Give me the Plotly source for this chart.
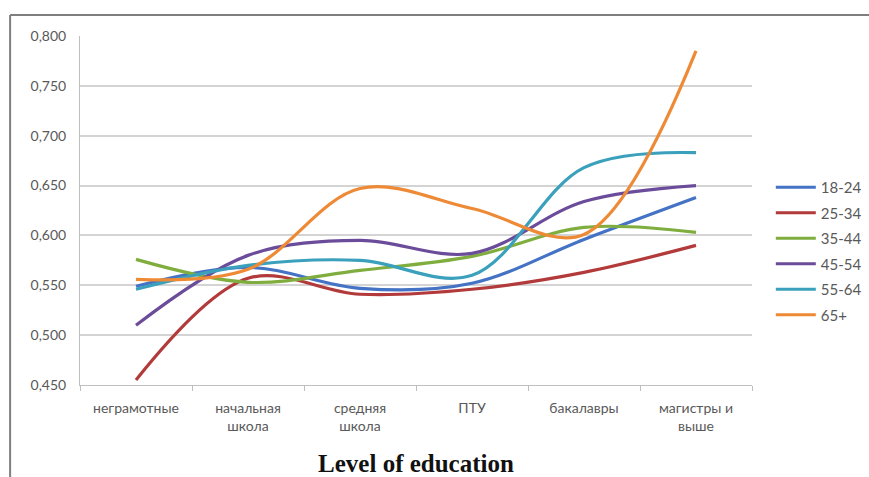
import plotly.graph_objects as go

categories = ["неграмотные", "начальная<br>школа", "средняя<br>школа", "ПТУ", "бакалавры", "магистры и<br>выше"]

age_18_24 = [0.549, 0.568, 0.547, 0.552, 0.596, 0.638]
age_25_34 = [0.455, 0.557, 0.541, 0.546, 0.563, 0.590]
age_35_44 = [0.576, 0.553, 0.565, 0.579, 0.608, 0.603]
age_45_54 = [0.510, 0.580, 0.595, 0.582, 0.634, 0.650]
age_55_64 = [0.546, 0.570, 0.575, 0.560, 0.668, 0.683]
age_65p = [0.556, 0.566, 0.647, 0.627, 0.601, 0.785]

series = [
    ("18-24", age_18_24, "#4472C4"),
    ("25-34", age_25_34, "#B23A3A"),
    ("35-44", age_35_44, "#7FAE3E"),
    ("45-54", age_45_54, "#6B4C9A"),
    ("55-64", age_55_64, "#3AA0BC"),
    ("65+", age_65p, "#EE8A35"),
]

fig = go.Figure()
for name, vals, color in series:
    fig.add_trace(go.Scatter(
        x=categories, y=vals, name=name, mode="lines", legendgroup=name,
        line=dict(color=color, width=3.2, shape="spline", smoothing=1.0),
    ))

grey = "#595959"
fig.update_layout(
    width=869, height=477,
    margin=dict(l=80, r=117, t=36, b=92, autoexpand=False),
    paper_bgcolor="white", plot_bgcolor="white",
    font=dict(family="Lato, Open Sans, sans-serif", size=14, color=grey),
    showlegend=True,
    legend=dict(x=1.028, y=0.384, xanchor="left", yanchor="middle",
                font=dict(size=15, color=grey), tracegroupgap=3,
                itemwidth=40, bgcolor="rgba(0,0,0,0)"),
    xaxis=dict(
        type="category", range=[-0.5, 5.5], tickson="boundaries",
        ticks="outside", ticklen=5, ticklabelstandoff=10,
        tickcolor="#bfbfbf", showline=True, linecolor="#bfbfbf", linewidth=1,
        showgrid=False, tickfont=dict(size=14, color=grey),
        title=dict(text="<b>Level of education</b>", standoff=22,
                   font=dict(family="Liberation Serif, Times New Roman, serif",
                             size=25, color="#111111")),
    ),
    yaxis=dict(
        range=[0.45, 0.80], dtick=0.05, tickformat=".3f",
        showgrid=True, gridcolor="#d4d4d4", gridwidth=1.5,
        ticks="outside", ticklen=10, tickcolor="white",
        showline=True, linecolor="#bfbfbf", zeroline=False,
        tickfont=dict(size=14, color=grey),
    ),
    separators=", ",
    shapes=[
        dict(type="line", xref="paper", yref="paper", x0=-0.104, x1=1.3,
             y0=1.060, y1=1.060, line=dict(color="#7f7f7f", width=2)),
        dict(type="line", xref="paper", yref="paper", x0=-0.104, x1=-0.104,
             y0=1.060, y1=-0.4, line=dict(color="#7f7f7f", width=2)),
    ],
)

fig.write_html("out.html")
